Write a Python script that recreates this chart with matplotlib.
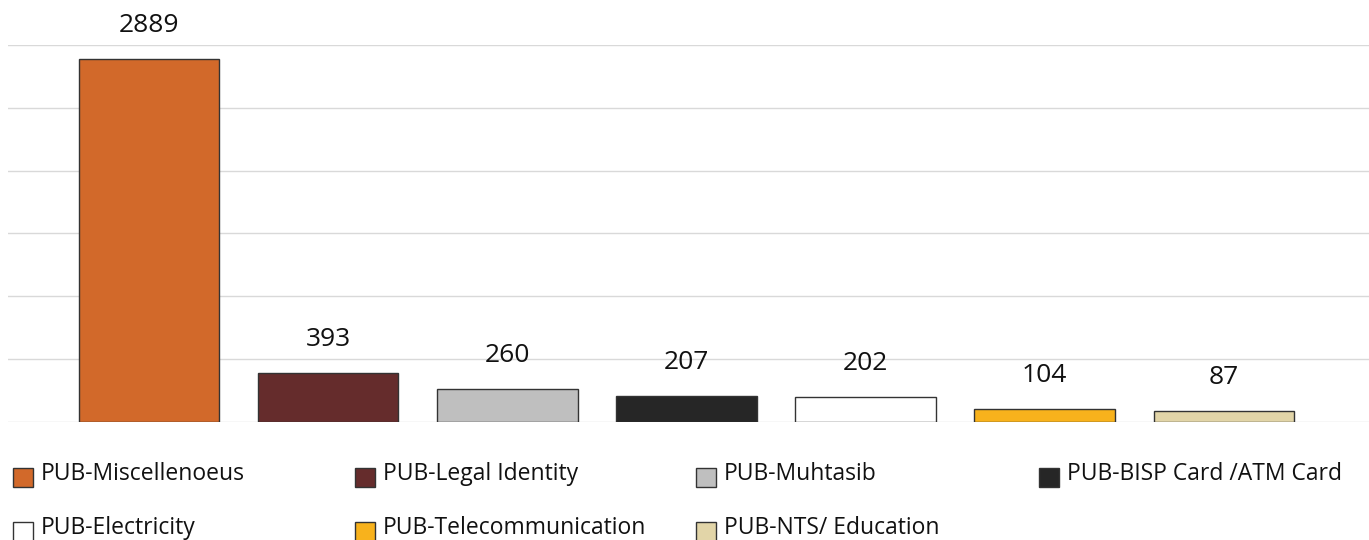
import matplotlib
matplotlib.use("Agg")
import matplotlib.pyplot as plt
from matplotlib.patches import Rectangle

categories = ["PUB-Miscellenoeus", "PUB-Legal Identity", "PUB-Muhtasib",
              "PUB-BISP Card /ATM Card", "PUB-Electricity",
              "PUB-Telecommunication", "PUB-NTS/ Education"]
values = [2889, 393, 260, 207, 202, 104, 87]
colors = ["#D2692A", "#652C2C", "#BFBFBF", "#262626", "#FFFFFF", "#F8B21C", "#E2D5A8"]

W, H = 1369, 540
fig = plt.figure(figsize=(W / 100, H / 100), dpi=100)
plt.rcParams['font.family'] = ['Open Sans', 'DejaVu Sans']

ax = fig.add_axes([8 / W, (H - 422) / H, (W - 8) / W, (422 - 45) / H])
x = list(range(len(values)))
bars = ax.bar(x, values, width=0.785, color=colors, edgecolor="#333333", linewidth=1, zorder=3)
ax.set_ylim(0, 3000)
ax.set_xlim(-0.787, 6.81)
ax.set_yticks(range(0, 3001, 500))
ax.yaxis.grid(True, color="#D9D9D9", linewidth=1, zorder=0)
ax.set_axisbelow(True)
for s in ax.spines.values():
    s.set_visible(False)
ax.tick_params(left=False, bottom=False, labelleft=False, labelbottom=False)

for xi, v in zip(x, values):
    ax.annotate(str(v), (xi, v), xytext=(0, 19.5), textcoords="offset points",
                ha="center", va="baseline", fontsize=19, color="#111111")

# legend
col_x = [13, 355, 696, 1039]
row_top = [468, 522]
for i, (name, c) in enumerate(zip(categories, colors)):
    cx = col_x[i % 4]
    top = row_top[i // 4]
    fig.patches.append(Rectangle((cx / W, (H - top - 19) / H), 20 / W, 19 / H,
                                 transform=fig.transFigure, facecolor=c,
                                 edgecolor="#333333", linewidth=1))
    fig.text((cx + 28) / W, (H - top - 12) / H, name, fontsize=16.5, ha="left",
             va="baseline", color="#111111")

fig.savefig("out.png", dpi=100)
